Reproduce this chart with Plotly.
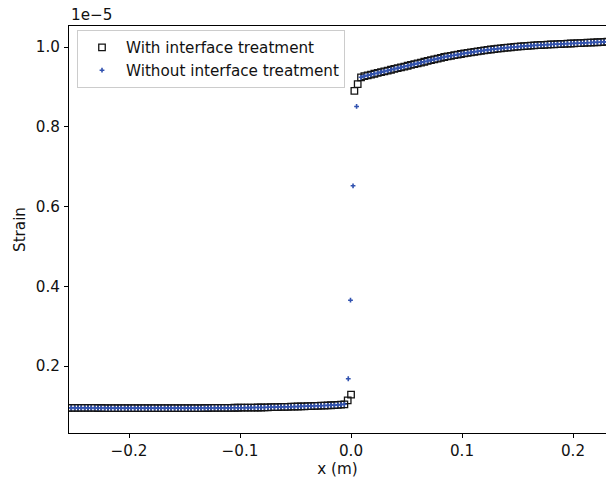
import plotly.graph_objects as go

# Strain along the bar (values in units of 1e-5), read on a 0.003 m grid
x_left = [
    -0.255, -0.252, -0.249, -0.246, -0.243, -0.240, -0.237, -0.234, -0.231, -0.228,
    -0.225, -0.222, -0.219, -0.216, -0.213, -0.210, -0.207, -0.204, -0.201, -0.198,
    -0.195, -0.192, -0.189, -0.186, -0.183, -0.180, -0.177, -0.174, -0.171, -0.168,
    -0.165, -0.162, -0.159, -0.156, -0.153, -0.150, -0.147, -0.144, -0.141, -0.138,
    -0.135, -0.132, -0.129, -0.126, -0.123, -0.120, -0.117, -0.114, -0.111, -0.108,
    -0.105, -0.102, -0.099, -0.096, -0.093, -0.090, -0.087, -0.084, -0.081, -0.078,
    -0.075, -0.072, -0.069, -0.066, -0.063, -0.060, -0.057, -0.054, -0.051, -0.048,
    -0.045, -0.042, -0.039, -0.036, -0.033, -0.030, -0.027, -0.024, -0.021, -0.018,
    -0.015, -0.012, -0.009, -0.006,
]
strain_left = [
    0.0952, 0.0951, 0.0951, 0.0950, 0.0950, 0.0949, 0.0949, 0.0948, 0.0948, 0.0947,
    0.0947, 0.0946, 0.0946, 0.0945, 0.0945, 0.0945, 0.0944, 0.0944, 0.0944, 0.0944,
    0.0943, 0.0943, 0.0943, 0.0943, 0.0943, 0.0943, 0.0943, 0.0943, 0.0943, 0.0943,
    0.0943, 0.0943, 0.0944, 0.0944, 0.0944, 0.0944, 0.0945, 0.0945, 0.0945, 0.0946,
    0.0946, 0.0947, 0.0947, 0.0948, 0.0948, 0.0949, 0.0950, 0.0950, 0.0951, 0.0952,
    0.0953, 0.0953, 0.0954, 0.0955, 0.0956, 0.0957, 0.0958, 0.0959, 0.0960, 0.0961,
    0.0965, 0.0967, 0.0969, 0.0971, 0.0973, 0.0975, 0.0977, 0.0980, 0.0982, 0.0985,
    0.0988, 0.0990, 0.0993, 0.0996, 0.0999, 0.1002, 0.1005, 0.1008, 0.1012, 0.1016,
    0.1020, 0.1025, 0.1031, 0.1040,
]

x_right = [
    0.009, 0.012, 0.015, 0.018, 0.021, 0.024, 0.027, 0.030, 0.033, 0.036,
    0.039, 0.042, 0.045, 0.048, 0.051, 0.054, 0.057, 0.060, 0.063, 0.066,
    0.069, 0.072, 0.075, 0.078, 0.081, 0.084, 0.087, 0.090, 0.093, 0.096,
    0.099, 0.102, 0.105, 0.108, 0.111, 0.114, 0.117, 0.120, 0.123, 0.126,
    0.129, 0.132, 0.135, 0.138, 0.141, 0.144, 0.147, 0.150, 0.153, 0.156,
    0.159, 0.162, 0.165, 0.168, 0.171, 0.174, 0.177, 0.180, 0.183, 0.186,
    0.189, 0.192, 0.195, 0.198, 0.201, 0.204, 0.207, 0.210, 0.213, 0.216,
    0.219, 0.222, 0.225, 0.228, 0.231,
]
strain_right = [
    0.924, 0.927, 0.929, 0.931, 0.933, 0.935, 0.937, 0.939, 0.941, 0.943,
    0.945, 0.947, 0.949, 0.951, 0.953, 0.955, 0.957, 0.959, 0.961, 0.963,
    0.965, 0.967, 0.969, 0.971, 0.973, 0.975, 0.9765, 0.978, 0.9795, 0.981,
    0.9825, 0.984, 0.9853, 0.9866, 0.9879, 0.9892, 0.9904, 0.9916, 0.9927, 0.9938,
    0.9948, 0.9958, 0.9967, 0.9976, 0.9985, 0.9993, 1.0001, 1.0008, 1.0015, 1.0022,
    1.0028, 1.0034, 1.0040, 1.0045, 1.0050, 1.0055, 1.0060, 1.0064, 1.0068, 1.0072,
    1.0076, 1.0080, 1.0084, 1.0088, 1.0092, 1.0096, 1.0100, 1.0104, 1.0108, 1.0112,
    1.0116, 1.0120, 1.0124, 1.0128, 1.0132,
]

# Points across the material interface
x_jump_treated = [-0.003, 0.0, 0.003, 0.006]
strain_jump_treated = [0.114, 0.128, 0.890, 0.907]
x_jump_untreated = [-0.0025, -0.0005, 0.0018, 0.005]
strain_jump_untreated = [0.168, 0.365, 0.652, 0.851]

labels = ["With interface treatment", "Without interface treatment"]

font_family = "DejaVu Sans"
font_size = 15.2
text_color = "#111111"

fig = go.Figure()
fig.add_trace(go.Scatter(
    x=x_left + x_jump_treated + x_right,
    y=strain_left + strain_jump_treated + strain_right,
    mode="markers",
    name=labels[0],
    legendgroup="a",
    marker=dict(symbol="square-open", size=6.5, color="#141414",
                line=dict(width=1.3, color="#141414")),
))
fig.add_trace(go.Scatter(
    x=x_left + x_jump_untreated + x_right,
    y=strain_left + strain_jump_untreated + strain_right,
    mode="markers",
    name=labels[1],
    legendgroup="b",
    marker=dict(symbol="cross", size=4, color="#3253b0", line=dict(width=0)),
))

axis_common = dict(
    showline=True, linecolor="black", linewidth=1,
    ticks="outside", ticklen=4, tickwidth=1, tickcolor="black",
    showgrid=False, zeroline=False,
    tickfont=dict(family=font_family, size=font_size, color=text_color),
)

fig.update_layout(
    width=606, height=484,
    margin=dict(l=69, r=0, t=26, b=51),
    paper_bgcolor="white", plot_bgcolor="white",
    font=dict(family=font_family, size=font_size, color=text_color),
    showlegend=True,
    legend=dict(
        x=0.0149, y=0.99, xanchor="left", yanchor="top",
        bgcolor="rgba(255,255,255,0.8)", bordercolor="#cccccc", borderwidth=1,
        font=dict(family=font_family, size=font_size, color=text_color),
        tracegroupgap=0, itemwidth=38,
    ),
    xaxis=dict(
        range=[-0.2541, 0.2297],
        tickvals=[-0.2, -0.1, 0.0, 0.1, 0.2],
        tickformat=".1f",
        mirror=True,
        title=dict(text="x (m)", standoff=4,
                   font=dict(family=font_family, size=font_size, color=text_color)),
        **axis_common,
    ),
    yaxis=dict(
        range=[0.032, 1.0527],
        tickvals=[0.2, 0.4, 0.6, 0.8, 1.0],
        tickformat=".1f",
        ticklabelstandoff=1,
        title=dict(text="Strain", standoff=6,
                   font=dict(family=font_family, size=font_size, color=text_color)),
        **axis_common,
    ),
    annotations=[dict(
        text="1e\u22125", xref="paper", yref="paper", x=0, y=1,
        xanchor="left", yanchor="bottom", showarrow=False, yshift=0,
        font=dict(family=font_family, size=font_size, color=text_color),
    )],
)

fig.write_html("out.html")
